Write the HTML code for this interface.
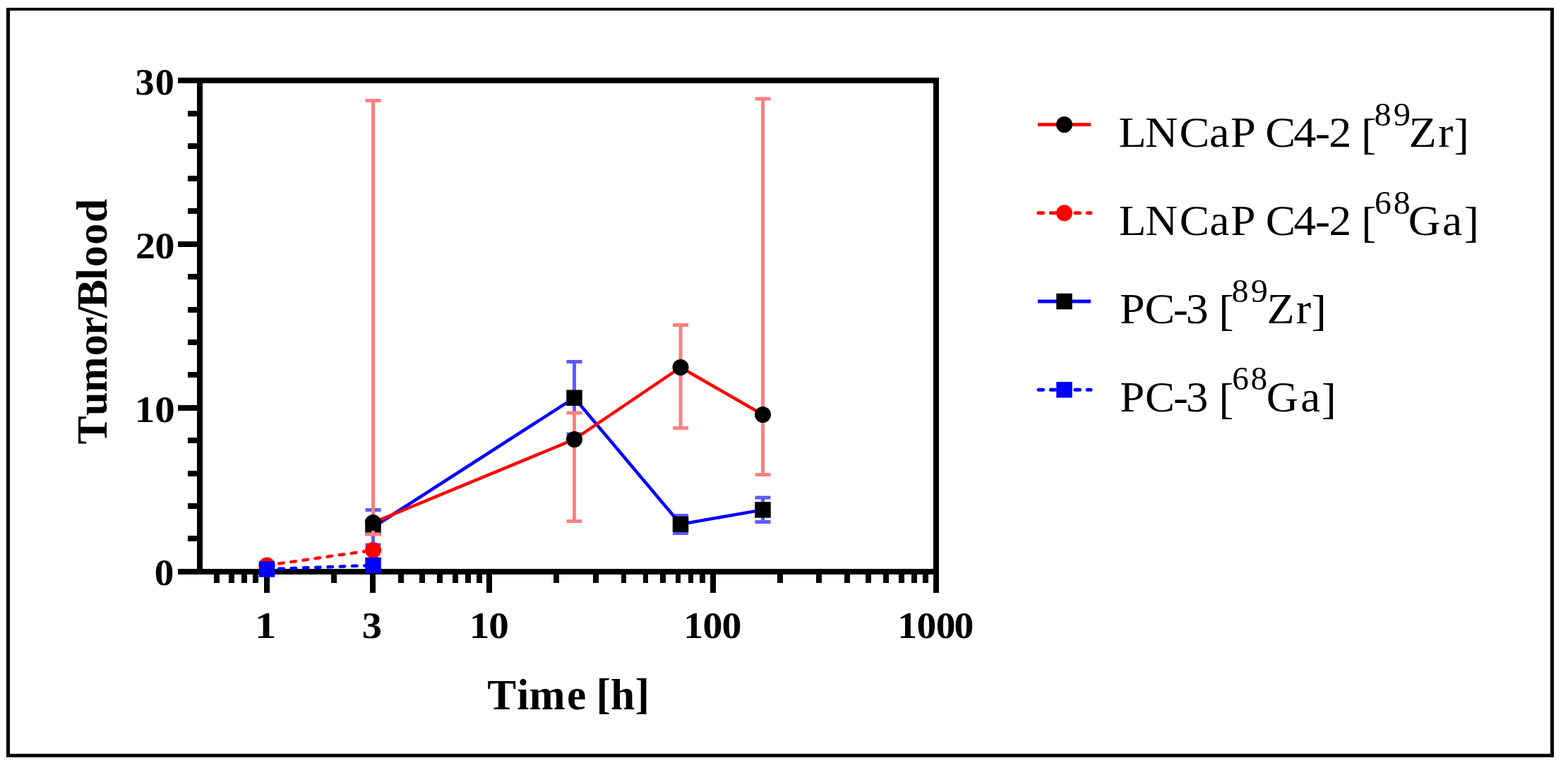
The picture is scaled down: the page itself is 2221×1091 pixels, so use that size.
<!DOCTYPE html>
<html><head><meta charset="utf-8"><title>Tumor/Blood ratio</title><style>html,body{margin:0;padding:0;background:#fff;overflow:hidden}svg{display:block}</style></head><body>
<svg width="2221" height="1091" viewBox="0 0 2221 1091" font-family="'Liberation Serif', serif" fill="#000"><rect x="9" y="11" width="5" height="1062" fill="#000"/>
<rect x="9" y="11" width="2192" height="4" fill="#000"/>
<rect x="2196" y="11" width="5" height="1062" fill="#000"/>
<rect x="9" y="1068" width="2192" height="5" fill="#000"/>
<rect x="252" y="110" width="1078" height="8" fill="#000"/>
<rect x="279" y="110" width="8" height="704" fill="#000"/>
<rect x="1322" y="110" width="8" height="730" fill="#000"/>
<rect x="252" y="806" width="1078" height="8" fill="#000"/>
<rect x="252" y="342" width="27" height="8" fill="#000"/>
<rect x="252" y="574" width="27" height="8" fill="#000"/>
<rect x="266" y="157" width="13" height="8" fill="#000"/>
<rect x="266" y="203" width="13" height="8" fill="#000"/>
<rect x="266" y="249" width="13" height="8" fill="#000"/>
<rect x="266" y="295" width="13" height="8" fill="#000"/>
<rect x="266" y="388" width="13" height="8" fill="#000"/>
<rect x="266" y="435" width="13" height="8" fill="#000"/>
<rect x="266" y="481" width="13" height="8" fill="#000"/>
<rect x="266" y="527" width="13" height="8" fill="#000"/>
<rect x="266" y="620" width="13" height="8" fill="#000"/>
<rect x="266" y="667" width="13" height="8" fill="#000"/>
<rect x="266" y="713" width="13" height="8" fill="#000"/>
<rect x="266" y="759" width="13" height="8" fill="#000"/>
<rect x="374" y="814" width="8" height="26" fill="#000"/>
<rect x="524" y="814" width="8" height="26" fill="#000"/>
<rect x="689" y="814" width="8" height="26" fill="#000"/>
<rect x="1006" y="814" width="8" height="26" fill="#000"/>
<rect x="303" y="814" width="8" height="12" fill="#000"/>
<rect x="324" y="814" width="8" height="12" fill="#000"/>
<rect x="342" y="814" width="8" height="12" fill="#000"/>
<rect x="358" y="814" width="8" height="12" fill="#000"/>
<rect x="469" y="814" width="8" height="12" fill="#000"/>
<rect x="564" y="814" width="8" height="12" fill="#000"/>
<rect x="594" y="814" width="8" height="12" fill="#000"/>
<rect x="619" y="814" width="8" height="12" fill="#000"/>
<rect x="641" y="814" width="8" height="12" fill="#000"/>
<rect x="659" y="814" width="8" height="12" fill="#000"/>
<rect x="675" y="814" width="8" height="12" fill="#000"/>
<rect x="784" y="814" width="8" height="12" fill="#000"/>
<rect x="840" y="814" width="8" height="12" fill="#000"/>
<rect x="880" y="814" width="7" height="12" fill="#000"/>
<rect x="911" y="814" width="7" height="12" fill="#000"/>
<rect x="935" y="814" width="8" height="12" fill="#000"/>
<rect x="957" y="814" width="7" height="12" fill="#000"/>
<rect x="975" y="814" width="7" height="12" fill="#000"/>
<rect x="991" y="814" width="8" height="12" fill="#000"/>
<rect x="1101" y="814" width="8" height="12" fill="#000"/>
<rect x="1156" y="814" width="8" height="12" fill="#000"/>
<rect x="1196" y="814" width="8" height="12" fill="#000"/>
<rect x="1226" y="814" width="8" height="12" fill="#000"/>
<rect x="1251" y="814" width="8" height="12" fill="#000"/>
<rect x="1273" y="814" width="8" height="12" fill="#000"/>
<rect x="1291" y="814" width="8" height="12" fill="#000"/>
<rect x="1307" y="814" width="8" height="12" fill="#000"/>
<rect x="526.0" y="722.5" width="5" height="49.5" fill="#5a5aff"/><rect x="517.5" y="720.0" width="22" height="5" fill="#5a5aff"/><rect x="517.5" y="769.5" width="22" height="5" fill="#5a5aff"/>
<rect x="811.0" y="512.5" width="5" height="102.5" fill="#5a5aff"/><rect x="802.5" y="510.0" width="22" height="5" fill="#5a5aff"/><rect x="802.5" y="612.5" width="22" height="5" fill="#5a5aff"/>
<rect x="961.5" y="730.5" width="5" height="25.0" fill="#5a5aff"/><rect x="953" y="728.0" width="22" height="5" fill="#5a5aff"/><rect x="953" y="753.0" width="22" height="5" fill="#5a5aff"/>
<rect x="1078.0" y="705" width="5" height="34.5" fill="#5a5aff"/><rect x="1069.5" y="702.5" width="22" height="5" fill="#5a5aff"/><rect x="1069.5" y="737.0" width="22" height="5" fill="#5a5aff"/>
<polyline points="528.5,747 813.5,563.7 964,742.7 1080.5,722.4" fill="none" stroke="#0000ff" stroke-width="4.5" stroke-linejoin="round"/>
<rect x="517.25" y="735.75" width="22.5" height="22.5" fill="#000"/>
<rect x="802.25" y="552.45" width="22.5" height="22.5" fill="#000"/>
<rect x="952.75" y="731.45" width="22.5" height="22.5" fill="#000"/>
<rect x="1069.25" y="711.15" width="22.5" height="22.5" fill="#000"/>
<rect x="526.0" y="142.5" width="5" height="614.5" fill="#ff8080"/><rect x="517.5" y="140.0" width="22" height="5" fill="#ff8080"/><rect x="517.5" y="754.5" width="22" height="5" fill="#ff8080"/>
<rect x="811.0" y="585" width="5" height="153.5" fill="#ff8080"/><rect x="802.5" y="582.5" width="22" height="5" fill="#ff8080"/><rect x="802.5" y="736.0" width="22" height="5" fill="#ff8080"/>
<rect x="961.5" y="460.5" width="5" height="146.0" fill="#ff8080"/><rect x="953" y="458.0" width="22" height="5" fill="#ff8080"/><rect x="953" y="604.0" width="22" height="5" fill="#ff8080"/>
<rect x="1078.0" y="140" width="5" height="532.5" fill="#ff8080"/><rect x="1069.5" y="137.5" width="22" height="5" fill="#ff8080"/><rect x="1069.5" y="670.0" width="22" height="5" fill="#ff8080"/>
<polyline points="528.5,740.5 813.5,622.5 964,520.5 1080.5,587.5" fill="none" stroke="#ff0000" stroke-width="4.5" stroke-linejoin="round"/>
<circle cx="528.5" cy="740.5" r="11.5" fill="#000"/>
<circle cx="813.5" cy="622.5" r="11.5" fill="#000"/>
<circle cx="964" cy="520.5" r="11.5" fill="#000"/>
<circle cx="1080.5" cy="587.5" r="11.5" fill="#000"/>
<polyline points="378,801 528.5,779.5" fill="none" stroke="#ff0000" stroke-width="4.5" stroke-linejoin="round" stroke-dasharray="6.5 10.8" stroke-linecap="round"/>
<circle cx="378" cy="801" r="11.5" fill="#ff0000"/>
<circle cx="528.5" cy="779.5" r="11.5" fill="#ff0000"/>
<polyline points="378,806.5 528.5,801" fill="none" stroke="#0000ff" stroke-width="4.5" stroke-linejoin="round" stroke-dasharray="6.5 10.8" stroke-linecap="round"/>
<rect x="366.75" y="795.25" width="22.5" height="22.5" fill="#0000ff"/>
<rect x="517.25" y="789.75" width="22.5" height="22.5" fill="#0000ff"/>
<line x1="1470" y1="176.5" x2="1545" y2="176.5" stroke="#ff0000" stroke-width="5"/><circle cx="1507.5" cy="176.5" r="11.5" fill="#000"/>
<line x1="1470" y1="301.77" x2="1545" y2="301.77" stroke="#ff0000" stroke-width="5" stroke-dasharray="6.5 10.8" stroke-dashoffset="-1" stroke-linecap="round"/><circle cx="1507.5" cy="301.77" r="11.5" fill="#ff0000"/>
<line x1="1470" y1="427.03999999999996" x2="1545" y2="427.03999999999996" stroke="#0000ff" stroke-width="5"/><rect x="1496.25" y="415.78999999999996" width="22.5" height="22.5" fill="#000"/>
<line x1="1470" y1="552.31" x2="1545" y2="552.31" stroke="#0000ff" stroke-width="5" stroke-dasharray="6.5 10.8" stroke-dashoffset="-1" stroke-linecap="round"/><rect x="1496.25" y="541.06" width="22.5" height="22.5" fill="#0000ff"/>
<text transform="translate(191.56 0) scale(1.0142 1)" x="0.00 27.73" y="133.8 133.8" font-size="53.5" font-weight="bold">30</text>
<text transform="translate(191.95 0) scale(1.0467 1)" x="0.00 26.32" y="365.8 365.8" font-size="53.5" font-weight="bold">20</text>
<text transform="translate(190.84 0) scale(1.0659 1)" x="0.00 26.69" y="597.8 597.8" font-size="53.5" font-weight="bold">10</text>
<text transform="translate(218.73 0) scale(1.0330 1)" x="0.00" y="829.3" font-size="53.5" font-weight="bold">0</text>
<text transform="translate(360.82 0) scale(1.1494 1)" x="0.00" y="904.2" font-size="53.5" font-weight="bold">1</text>
<text transform="translate(512.69 0) scale(1.0565 1)" x="0.00" y="904.2" font-size="53.5" font-weight="bold">3</text>
<text transform="translate(664.86 0) scale(1.0682 1)" x="0.00 25.65" y="904.2 904.2" font-size="53.5" font-weight="bold">10</text>
<text transform="translate(968.26 0) scale(1.0437 1)" x="0.00 26.09 52.01" y="904.2 904.2 904.2" font-size="53.5" font-weight="bold">100</text>
<text transform="translate(1271.31 0) scale(1.0381 1)" x="0.00 26.30 52.36 77.26" y="904.2 904.2 904.2 904.2" font-size="53.5" font-weight="bold">1000</text>
<text transform="translate(690.37 0) scale(0.9896 1)" x="0.00 42.42 59.81 113.79 141.33 155.73 176.46 211.21" y="1005.0 1005.0 1005.0 1005.0 1005.0 1004.0 1005.0 1004.0" font-size="62" font-weight="bold">Time [h]</text>
<text transform="translate(1584.39 0) scale(1.0530 1)" x="0.00 35.74 81.70 122.08 150.62 184.56 197.51 235.49 264.43 282.82 313.32 326.37 343.86 369.81 390.44 429.77 451.27" y="207.9 207.9 207.9 207.9 207.9 207.9 207.9 207.9 207.9 207.9 207.9 211.3 177.6 177.6 207.9 207.9 211.3" font-size="61">LNCaP C4-2 [<tspan x="343.86 369.81" y="177.6 177.6" font-size="46">89</tspan>Zr]</text>
<text transform="translate(1584.65 0) scale(1.0382 1)" x="0.00 36.31 82.90 123.78 152.76 186.69 200.37 238.82 268.10 286.83 317.33 330.94 349.07 374.70 394.94 441.55 471.02" y="333.0 333.0 333.0 333.0 333.0 333.0 333.0 333.0 333.0 333.0 333.0 336.4 302.7 302.7 333.0 333.0 336.4" font-size="61">LNCaP C4-2 [<tspan x="349.07 374.70" y="302.7 302.7" font-size="46">68</tspan>Ga]</text>
<text transform="translate(1585.97 0) scale(1.0487 1)" x="0.00 33.94 72.34 89.38 119.88 133.72 151.16 177.06 198.85 238.27 258.98" y="457.9 457.9 457.9 457.9 457.9 461.3 427.6 427.6 457.9 457.9 461.3" font-size="61">PC-3 [<tspan x="151.16 177.06" y="427.6 427.6" font-size="46">89</tspan>Zr]</text>
<text transform="translate(1586.28 0) scale(1.0296 1)" x="0.00 34.63 73.57 91.02 121.52 136.11 154.48 179.95 201.62 248.59 277.25" y="582.8 582.8 582.8 582.8 582.8 586.2 552.5 552.5 582.8 582.8 586.2" font-size="61">PC-3 [<tspan x="154.48 179.95" y="552.5 552.5" font-size="46">68</tspan>Ga]</text>
<text transform="translate(150.7 640.0) rotate(-90) translate(10.46 0) scale(0.9729 1)" x="0.00 41.75 75.77 128.85 158.46 183.28 198.61 239.15 258.40 290.78 323.00" y="0 0 0 0 0 0 0 0 0 0 0" font-size="62" font-weight="bold">Tumor/Blood</text></svg>
</body></html>
